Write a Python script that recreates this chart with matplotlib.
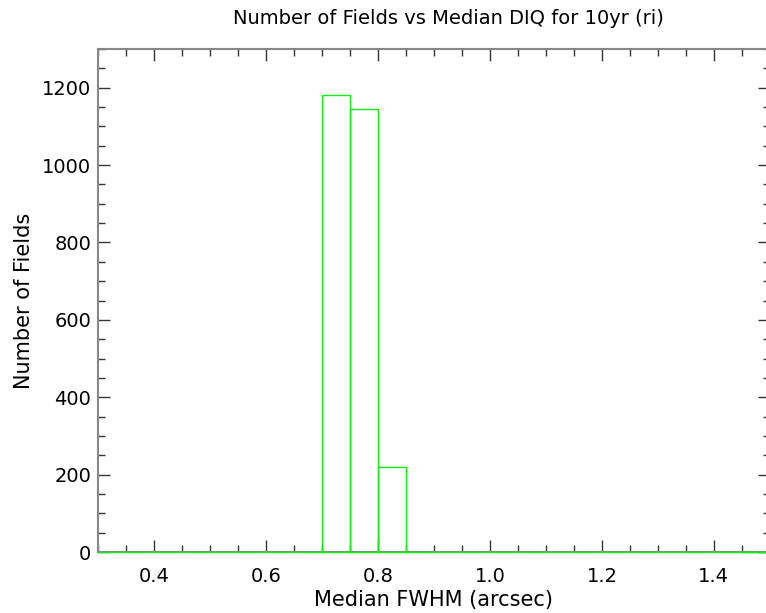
import matplotlib
matplotlib.use("Agg")
import matplotlib.pyplot as plt
import numpy as np
from matplotlib.ticker import MultipleLocator

# histogram of median FWHM per field, 0.05 arcsec bins
bin_edges = [0.30, 0.35, 0.40, 0.45, 0.50, 0.55, 0.60, 0.65, 0.70, 0.75,
             0.80, 0.85, 0.90, 0.95, 1.00, 1.05, 1.10, 1.15, 1.20, 1.25,
             1.30, 1.35, 1.40, 1.45, 1.50]
counts = [0, 0, 0, 0, 0, 0, 0, 0, 1181, 1145,
          220, 0, 0, 0, 0, 0, 0, 0, 0, 0,
          0, 0, 0, 0]

fig = plt.figure(figsize=(7.66, 6.13), dpi=100)
ax = fig.add_axes([0.128, 0.0995, 0.877, 0.8205])

left = np.array(bin_edges[:-1])
width = np.diff(bin_edges)
bars = ax.bar(left, counts, width=width, align="edge", fill=False,
              edgecolor="#11ee11", linewidth=1.0, zorder=3)
for b in bars:
    b.set_clip_on(False)

ax.set_xlim(0.3, 1.5)
ax.set_ylim(0, 1300)
ax.xaxis.set_major_locator(MultipleLocator(0.2))
ax.xaxis.set_minor_locator(MultipleLocator(0.05))
ax.yaxis.set_major_locator(MultipleLocator(200))
ax.yaxis.set_minor_locator(MultipleLocator(50))
ax.xaxis.set_major_formatter(plt.FuncFormatter(lambda v, p: "%.1f" % v))

ax.tick_params(which="both", direction="in", top=True, right=True,
               labelsize=14, color="#333333", pad=5)
ax.tick_params(axis="x", which="both", pad=11)
ax.tick_params(which="major", length=8.6, width=1)
ax.tick_params(which="minor", length=5, width=1)
for s in ax.spines.values():
    s.set_color("#888888")
    s.set_linewidth(1.5)
    s.set_zorder(2)

ax.set_xlabel("Median FWHM (arcsec)", fontsize=15, labelpad=3)
ax.set_ylabel("Number of Fields", fontsize=15, labelpad=6)
ax.set_title("Number of Fields vs Median DIQ for 10yr (ri)", fontsize=14,
             pad=18, x=0.522)

fig.savefig("out.png", dpi=100)
